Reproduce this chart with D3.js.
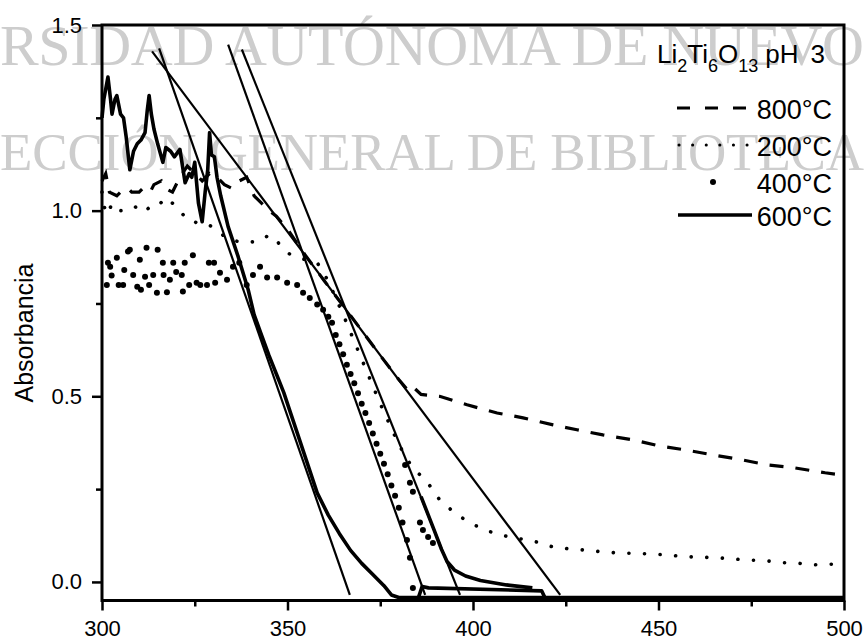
<!DOCTYPE html>
<html><head><meta charset="utf-8">
<script src="https://cdn.jsdelivr.net/npm/d3@7"></script>
<style>body{margin:0;background:#fff}svg{display:block}</style>
</head><body>
<svg id="chart" width="865" height="641"></svg>
<script>
// ---------- data ----------
const xTicks = [300, 350, 400, 450, 500];
const xMinor = [325, 375, 425, 475];
const yTicks = [0.0, 0.5, 1.0, 1.5];
const yMinor = [0.25, 0.75, 1.25];
const legendLabels = ["800°C", "200°C", "400°C", "600°C"];
const watermark = ["RSIDAD AUTÓNOMA DE NUEVO", "ECCIÓN GENERAL DE BIBLIOTECA"];

// 800 °C (dashed)
const s800 = [[300,1.08],[301,1.10],[302,1.05],[304,1.04],[305,1.05],[307,1.06],[308,1.05],[310,1.05],[311,1.06],[313,1.05],[314,1.07],[316,1.08],[317,1.06],[319,1.05],[321,1.09],[323,1.12],[325,1.10],[327,1.08],[329,1.10],[331,1.09],[333,1.07],[335,1.06],[337,1.08],[339,1.09],[341,1.04],[343,1.02],[345,1.00],[347,0.985],[350,0.95],[355,0.877],[360,0.81],[365,0.744],[370,0.677],[375,0.61],[380,0.545],[383,0.51],[384.4,0.52],[386,0.505],[391,0.50],[398.4,0.477],[406.5,0.455],[413.5,0.442],[421.6,0.423],[428,0.41],[435,0.396],[442.9,0.383],[449.9,0.367],[457,0.356],[464.7,0.342],[472,0.33],[479.5,0.315],[486.8,0.307],[494.9,0.294],[498,0.29]];

// 200 °C (dotted)
const s200 = [[300,1.05],[301,0.99],[303,1.02],[305,1.0],[307,1.0],[309,1.01],[311,0.995],[313,1.01],[315,1.01],[317,1.035],[319,1.02],[321,1.0],[323,0.975],[325,0.97],[327,0.96],[329,0.96],[331,0.95],[333,0.93],[335,0.92],[338,0.915],[341,0.916],[343,0.92],[345,0.935],[347,0.92],[349,0.895],[351,0.88],[353,0.873],[356,0.865],[358,0.86],[361,0.81],[365,0.72],[370,0.60],[375,0.48],[380,0.37],[383.5,0.31],[387.6,0.27],[390.8,0.224],[395,0.186],[399.5,0.157],[404,0.137],[408.6,0.124],[417,0.108],[421.6,0.094],[426,0.089],[430,0.086],[435,0.081],[439,0.078],[444,0.077],[448,0.075],[452,0.073],[457,0.068],[461,0.067],[466,0.065],[470,0.062],[474,0.059],[479,0.057],[483,0.052],[488,0.05],[492,0.046],[497,0.048]];

// 400 °C (large dots, scatter)
const s400 = [[301.3,0.80],[301.6,0.86],[302.2,0.849],[302.6,0.825],[304,0.873],[304.5,0.80],[305.7,0.80],[306,0.84],[307,0.89],[307.5,0.895],[308.4,0.827],[309.5,0.795],[310.2,0.868],[310.5,0.787],[311.6,0.822],[312,0.90],[312.7,0.80],[313.8,0.827],[314.8,0.779],[315,0.895],[316.4,0.86],[316.6,0.827],[317.5,0.78],[318.3,0.814],[319.2,0.86],[320,0.835],[321.5,0.827],[321.8,0.782],[322.3,0.86],[323.5,0.80],[324.5,0.88],[325.5,0.806],[326.5,0.80],[328.3,0.80],[328.8,0.86],[330.2,0.86],[330.5,0.806],[331.8,0.833],[333.7,0.814],[335.3,0.849],[337,0.86],[339,0.80],[340.7,0.827],[342.6,0.849],[344.5,0.82],[347.2,0.82],[349.9,0.806],[352.6,0.80],[354.2,0.779],[356,0.765],[358,0.747],[359.6,0.733],[361,0.714],[362,0.698],[363,0.665],[364,0.64],[365,0.613],[366,0.585],[367,0.56],[368,0.535],[369,0.508],[370,0.48],[371,0.455],[372,0.428],[373,0.40],[374,0.372],[375,0.345],[376,0.318],[377,0.29],[378,0.26],[379,0.232],[380,0.2],[381,0.16],[381.7,0.315],[382.2,0.113],[383,0.267],[383,0.065],[383.8,0.243],[383.8,-0.016],[385.7,0.16],[386.5,0.14],[387.9,0.121],[389.2,0.105]];

// 600 °C (solid)
const s600 = [[300,1.25],[300.5,1.30],[301.6,1.36],[302.3,1.30],[302.7,1.26],[303.5,1.30],[304,1.31],[305,1.26],[305.8,1.25],[306.5,1.20],[307.5,1.11],[308.5,1.16],[309.5,1.18],[310.5,1.19],[311.6,1.21],[312.2,1.27],[312.7,1.31],[313.3,1.26],[314,1.22],[315,1.18],[316.4,1.13],[317.2,1.17],[318.5,1.16],[319.5,1.145],[321,1.165],[322.4,1.075],[323.5,1.10],[324.2,1.09],[325,1.13],[326,1.02],[327,0.97],[327.8,1.05],[328.5,1.11],[329,1.21],[329.5,1.15],[330.3,1.145],[331,1.09],[332,1.04],[334,0.957],[336.7,0.876],[339.4,0.787],[341,0.72],[343,0.665],[345,0.61],[347,0.56],[349,0.51],[351,0.45],[353,0.39],[355,0.33],[358,0.24],[361,0.18],[364,0.13],[367,0.085],[370,0.05],[373,0.02],[376,-0.01],[378,-0.035],[380,-0.042],[500,-0.042]];
const s600step = [[385.2,-0.045],[386.3,-0.012],[388,-0.016],[418.5,-0.024],[419.5,-0.045]];
const s600knee = [[386,0.23],[389.5,0.14],[391.5,0.088],[393,0.055],[395,0.032],[398,0.016],[402,0.004],[409,-0.008],[416,-0.016]];

// tangent (band-gap) lines
const tangents = [
  [[313.5,1.429],[423.5,-0.035]],
  [[315.4,1.437],[366.8,-0.035]],
  [[334.0,1.447],[387.1,-0.035]],
  [[337.7,1.434],[396.5,-0.035]]
];

// ---------- chart ----------
const svg = d3.select("#chart");
const x = d3.scaleLinear().domain([300, 500]).range([102, 844]);
const y = d3.scaleLinear().domain([-0.05, 1.5]).range([600.5, 25]);
const line = d3.line().x(d => x(d[0])).y(d => y(d[1]));

// watermark
const wm = svg.append("g").attr("fill", "#cdcdcd").attr("font-family", "Liberation Serif, Times New Roman, serif");
wm.append("text").attr("x", 0).attr("y", 65).attr("font-size", 58).attr("textLength", 864).text(watermark[0]);
wm.append("text").attr("x", 0).attr("y", 170).attr("font-size", 53).attr("textLength", 864).text(watermark[1]);

const font = "Liberation Sans, Arial, sans-serif";

// tangents
svg.append("g").selectAll("path").data(tangents).join("path")
  .attr("d", line).attr("fill", "none").attr("stroke", "#000").attr("stroke-width", 2.2);

// 800
svg.append("path").attr("d", line(s800)).attr("fill", "none").attr("stroke", "#000")
  .attr("stroke-width", 3.2).attr("stroke-dasharray", "14,12");
// 200
svg.append("path").attr("d", line(s200)).attr("fill", "none").attr("stroke", "#000")
  .attr("stroke-width", 3.6).attr("stroke-linecap", "round").attr("stroke-dasharray", "0.1,15.5");
// 400
svg.append("g").selectAll("circle").data(s400).join("circle")
  .attr("cx", d => x(d[0])).attr("cy", d => y(d[1])).attr("r", 3).attr("fill", "#000");
// 600
[s600, s600step, s600knee].forEach(s => {
  svg.append("path").attr("d", line(s)).attr("fill", "none").attr("stroke", "#000")
    .attr("stroke-width", 3.6).attr("stroke-linejoin", "round");
});

// frame
svg.append("rect").attr("x", x(300)).attr("y", y(1.5)).attr("width", x(500) - x(300)).attr("height", y(-0.05) - y(1.5))
  .attr("fill", "none").attr("stroke", "#000").attr("stroke-width", 3);

// axes
function styleAxis(g) {
  g.select(".domain").remove();
  g.selectAll(".tick line").attr("stroke", "#000").attr("stroke-width", 2.5);
  g.selectAll(".tick text").attr("font-family", font).attr("font-size", 22).attr("fill", "#000");
}
svg.append("g").attr("transform", `translate(0,${y(-0.05)})`)
  .call(d3.axisBottom(x).tickValues(xTicks).tickFormat(d3.format("d")).tickSize(10).tickPadding(10)).call(styleAxis);
svg.append("g").attr("transform", `translate(0,${y(-0.05)})`)
  .call(d3.axisBottom(x).tickValues(xMinor).tickFormat("").tickSize(6)).call(styleAxis);
svg.append("g").attr("transform", `translate(${x(300)},0)`)
  .call(d3.axisLeft(y).tickValues(yTicks).tickFormat(d3.format(".1f")).tickSize(10).tickPadding(10)).call(styleAxis);
svg.append("g").attr("transform", `translate(${x(300)},0)`)
  .call(d3.axisLeft(y).tickValues(yMinor).tickFormat("").tickSize(6)).call(styleAxis);

// y label
svg.append("text").attr("transform", "translate(33,333) rotate(-90)").attr("text-anchor", "middle")
  .attr("font-family", font).attr("font-size", 25).text("Absorbancia");

// legend title
const t = svg.append("text").attr("x", 657).attr("y", 63).attr("font-family", font).attr("font-size", 26);
t.append("tspan").text("Li");
t.append("tspan").attr("font-size", 18).attr("dy", 9).text("2");
t.append("tspan").attr("dy", -9).text("Ti");
t.append("tspan").attr("font-size", 18).attr("dy", 9).text("6");
t.append("tspan").attr("dy", -9).text("O");
t.append("tspan").attr("font-size", 18).attr("dy", 9).text("13");
t.append("tspan").attr("dy", -9).attr("dx", 7).text("pH");
t.append("tspan").attr("dx", 12).text("3");

// legend entries
const legY = [108, 145, 182, 215];
const lg = svg.append("g");
lg.append("line").attr("x1", 677).attr("x2", 753).attr("y1", legY[0]).attr("y2", legY[0])
  .attr("stroke", "#000").attr("stroke-width", 3.2).attr("stroke-dasharray", "13,15");
lg.append("line").attr("x1", 679).attr("x2", 748).attr("y1", legY[1]).attr("y2", legY[1])
  .attr("stroke", "#000").attr("stroke-width", 3).attr("stroke-linecap", "round").attr("stroke-dasharray", "0.1,13.5");
lg.append("circle").attr("cx", 713).attr("cy", legY[2]).attr("r", 3).attr("fill", "#000");
lg.append("line").attr("x1", 678).attr("x2", 752).attr("y1", legY[3]).attr("y2", legY[3])
  .attr("stroke", "#000").attr("stroke-width", 3.6);
lg.selectAll("text").data(legendLabels).join("text")
  .attr("x", 832).attr("y", (d, i) => legY[i] + 11).attr("text-anchor", "end")
  .attr("font-family", font).attr("font-size", 27).text(d => d);
</script>
</body></html>
